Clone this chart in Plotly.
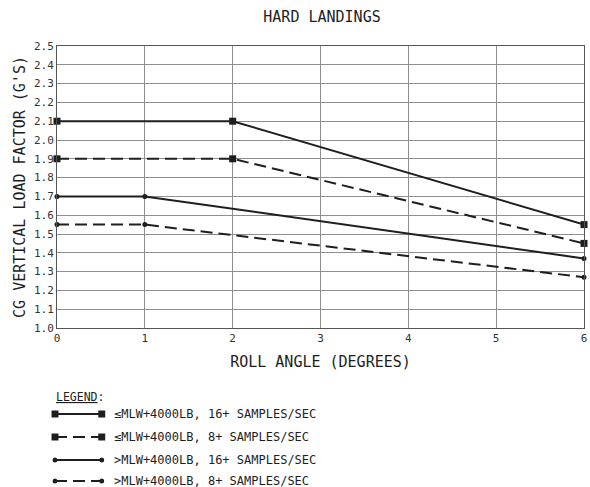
import plotly.graph_objects as go

# ---- data ----
roll_le_16 = [0, 2, 6]
load_le_16 = [2.1, 2.1, 1.55]
roll_le_8 = [0, 2, 6]
load_le_8 = [1.9, 1.9, 1.45]
roll_gt_16 = [0, 1, 6]
load_gt_16 = [1.7, 1.7, 1.37]
roll_gt_8 = [0, 1, 6]
load_gt_8 = [1.55, 1.55, 1.27]

series_names = [
    "≤MLW+4000LB, 16+ SAMPLES/SEC",
    "≤MLW+4000LB, 8+ SAMPLES/SEC",
    ">MLW+4000LB, 16+ SAMPLES/SEC",
    ">MLW+4000LB, 8+ SAMPLES/SEC",
]
x_ticks = [0, 1, 2, 3, 4, 5, 6]
y_ticks = [1.0, 1.1, 1.2, 1.3, 1.4, 1.5, 1.6, 1.7, 1.8, 1.9, 2.0, 2.1, 2.2, 2.3, 2.4, 2.5]

FONT = "DejaVu Sans Mono"
INK = "#1e1e1e"
DASH = "12px,6px"
W, H = 590, 487
L, R, T, B = 57, 3, 46, 159
PW, PH = W - L - R, H - T - B

series = [
    (roll_le_16, load_le_16, "solid", "square", 7),
    (roll_le_8, load_le_8, DASH, "square", 7),
    (roll_gt_16, load_gt_16, "solid", "circle", 5),
    (roll_gt_8, load_gt_8, DASH, "circle", 5),
]

fig = go.Figure()
for (xs, ys, dash, sym, ms), name in zip(series, series_names):
    fig.add_trace(go.Scatter(
        x=xs, y=ys, name=name, mode="lines+markers",
        line=dict(color=INK, width=2, dash=dash),
        marker=dict(symbol=sym, size=ms, color=INK),
        cliponaxis=False, showlegend=False,
    ))

def px_x(px):
    return (px - L) / PW

def px_y(py):
    return (H - B - py) / PH

shapes = []
annotations = []
annotations.append(dict(
    text="<span style='text-decoration:underline'>LEGEND</span>:",
    x=px_x(54), y=px_y(397), xref="paper", yref="paper",
    xanchor="left", yanchor="middle", showarrow=False,
    font=dict(family=FONT, size=11.5, color=INK),
))
row_y = [414, 437, 460, 481]
for (xs, ys, dash, sym, ms), name, ry in zip(series, series_names, row_y):
    y0 = px_y(ry)
    shapes.append(dict(type="line", xref="paper", yref="paper",
                       x0=px_x(55), x1=px_x(102), y0=y0, y1=y0,
                       line=dict(color=INK, width=2, dash=dash)))
    for mx in (55, 102):
        if sym == "square":
            shapes.append(dict(type="rect", xref="paper", yref="paper",
                               x0=px_x(mx - 3.5), x1=px_x(mx + 3.5),
                               y0=px_y(ry + 3.5), y1=px_y(ry - 3.5),
                               fillcolor=INK, line=dict(width=0)))
        else:
            shapes.append(dict(type="circle", xref="paper", yref="paper",
                               x0=px_x(mx - 2.5), x1=px_x(mx + 2.5),
                               y0=px_y(ry + 2.5), y1=px_y(ry - 2.5),
                               fillcolor=INK, line=dict(width=0)))
    annotations.append(dict(
        text=name, x=px_x(112), y=y0, xref="paper", yref="paper",
        xanchor="left", yanchor="middle", showarrow=False,
        font=dict(family=FONT, size=12, color=INK),
    ))

fig.update_layout(
    width=W, height=H,
    margin=dict(l=L, r=R, t=T, b=B),
    paper_bgcolor="white", plot_bgcolor="white",
    font=dict(family=FONT, color=INK),
    title=dict(text="HARD LANDINGS", x=(L + PW / 2) / W, xanchor="center",
               y=1 - 17 / H, yanchor="middle",
               font=dict(family=FONT, size=15, color=INK)),
    shapes=shapes, annotations=annotations,
    xaxis=dict(
        range=[0, 6], tickvals=x_ticks, ticks="", showgrid=True,
        gridcolor="#8f8f8f", gridwidth=1, zeroline=False,
        showline=True, linecolor="#555", linewidth=1, mirror=True,
        ticklabeloverflow="allow",
        tickfont=dict(family=FONT, size=11, color="#333"),
        title=dict(text="ROLL ANGLE (DEGREES)", standoff=12,
                   font=dict(family=FONT, size=15, color=INK)),
    ),
    yaxis=dict(
        range=[1.0, 2.5], tickvals=y_ticks, tickformat=".1f", ticks="",
        showgrid=True, gridcolor="#8f8f8f", gridwidth=1, zeroline=False,
        showline=True, linecolor="#555", linewidth=1, mirror=True,
        tickfont=dict(family=FONT, size=11, color="#333"),
        title=dict(text="CG VERTICAL LOAD FACTOR (G'S)", standoff=4,
                   font=dict(family=FONT, size=15, color=INK)),
    ),
)

fig.write_html(
    "out.html",
    config={"displayModeBar": False},
    post_script="document.body.style.margin='0';document.body.style.padding='0';document.body.style.overflow='hidden';",
)
